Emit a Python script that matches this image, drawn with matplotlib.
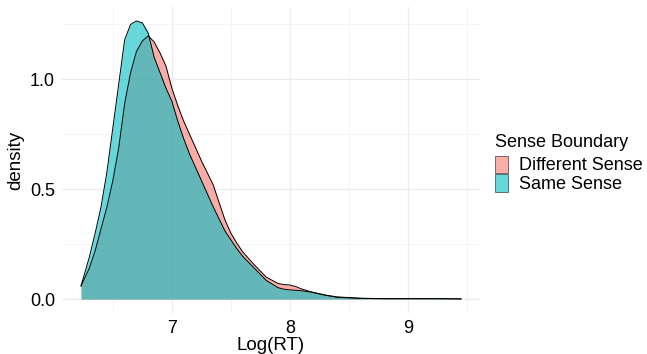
import matplotlib
matplotlib.use("Agg")
import matplotlib.pyplot as plt
from matplotlib.patches import Patch

plt.rcParams['font.family'] = ['Liberation Sans', 'DejaVu Sans']

# density curves (Log(RT) grid)
log_rt = [6.23, 6.3, 6.35, 6.4, 6.45, 6.5, 6.55, 6.6, 6.65, 6.7, 6.75, 6.8,
          6.85, 6.9, 6.95, 7.0, 7.05, 7.1, 7.15, 7.2, 7.25, 7.3, 7.35, 7.4,
          7.45, 7.5, 7.55, 7.6, 7.7, 7.8, 7.9, 7.95, 8.0, 8.05, 8.1, 8.2,
          8.3, 8.4, 8.6, 8.8, 9.0, 9.2, 9.45]
different_sense = [0.06, 0.14, 0.22, 0.32, 0.42, 0.54, 0.69, 0.89, 1.03, 1.127,
                   1.175, 1.198, 1.17, 1.12, 1.06, 0.96, 0.88, 0.81, 0.75, 0.69,
                   0.63, 0.575, 0.52, 0.44, 0.36, 0.30, 0.255, 0.215, 0.155, 0.10,
                   0.071, 0.066, 0.064, 0.057, 0.046, 0.03, 0.018, 0.008, 0.003,
                   0.002, 0.002, 0.002, 0.001]
same_sense = [0.06, 0.19, 0.30, 0.42, 0.58, 0.78, 0.98, 1.18, 1.25, 1.266,
              1.257, 1.21, 1.10, 1.03, 0.96, 0.90, 0.81, 0.73, 0.66, 0.60,
              0.54, 0.48, 0.42, 0.365, 0.31, 0.27, 0.23, 0.195, 0.14, 0.085,
              0.052, 0.045, 0.042, 0.040, 0.038, 0.03, 0.018, 0.01, 0.004,
              0.002, 0.002, 0.002, 0.001]

groups = ['Different Sense', 'Same Sense']
colors = ['#F8766D', '#00BFC4']
alpha = 0.6

fig = plt.figure(figsize=(6.47, 3.54), dpi=100)
ax = fig.add_axes([62 / 647, 1 - 313 / 354, (480 - 62) / 647, (313 - 7) / 354])

for y, c in zip([different_sense, same_sense], colors):
    ax.fill_between(log_rt, 0, y, color=c, alpha=alpha, linewidth=0)
    ax.plot(log_rt, y, color='black', linewidth=0.7)

xr = log_rt[-1] - log_rt[0]
ax.set_xlim(log_rt[0] - 0.05 * xr, log_rt[-1] + 0.05 * xr)
ymax = max(max(same_sense), max(different_sense))
ax.set_ylim(-0.05 * ymax, ymax * 1.05)

ax.set_xticks([7, 8, 9])
ax.set_xticks([6.5, 7.5, 8.5, 9.5], minor=True)
ax.set_yticks([0.0, 0.5, 1.0])
ax.set_yticklabels(['0.0', '0.5', '1.0'])
ax.set_yticks([0.25, 0.75, 1.25], minor=True)
ax.grid(True, which='major', color='#EBEBEB', linewidth=0.9)
ax.grid(True, which='minor', color='#F3F3F3', linewidth=0.6)
ax.set_axisbelow(True)
for s in ax.spines.values():
    s.set_visible(False)
ax.tick_params(which='both', length=0, labelsize=13, colors='black', pad=5)
ax.set_xlabel('Log(RT)', fontsize=13.5, labelpad=0)
ax.set_ylabel('density', fontsize=13.5, labelpad=4)

handles = [Patch(facecolor=c, alpha=alpha, edgecolor='black', linewidth=0.6) for c in colors]
leg = ax.legend(handles, groups, title='Sense Boundary', loc='upper left',
                bbox_to_anchor=(490 / 647, 1 - 129 / 354), bbox_transform=fig.transFigure,
                frameon=False, fontsize=13, title_fontsize=13, alignment='left',
                handlelength=0.7, handleheight=1.1, labelspacing=0.0,
                handletextpad=0.6, borderaxespad=0, borderpad=0.3)
leg._legend_box.sep = 3
for h in leg.legend_handles:
    h.set_alpha(alpha)

fig.savefig('out.png', dpi=100)
